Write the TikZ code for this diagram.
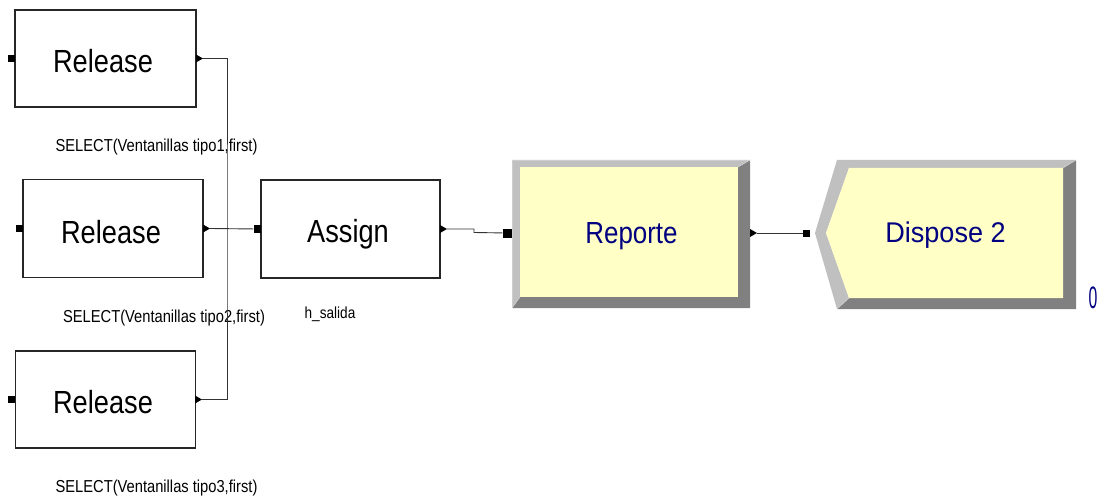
\documentclass[tikz,border=0pt]{standalone}
\usepackage{fontspec}
\setmainfont{Liberation Sans}
\newfontfamily\condfont[FakeStretch=0.85]{Liberation Sans}
\newfontfamily\plainfont[FakeStretch=0.95]{Liberation Sans}
\usetikzlibrary{calc}
\definecolor{bevlight}{HTML}{C0C0C0}
\definecolor{bevdark}{HTML}{808080}
\definecolor{modfill}{HTML}{FFFFC6}
\definecolor{modtext}{HTML}{000080}
\tikzset{
  blockbox/.style={draw=black!85, line width=1.1pt, fill=white, inner sep=0pt},
  blocktext/.style={inner sep=0pt, anchor=base, font=\condfont\fontsize{32}{36}\selectfont},
  modlabel/.style={inner sep=0pt, font=\condfont\fontsize{17.3}{20}\selectfont},
  inport/.style={fill=black, draw=none, minimum width=7pt, minimum height=7pt, inner sep=0pt},
  bigport/.style={fill=black, draw=none, minimum width=9pt, minimum height=9pt, inner sep=0pt},
  conn/.style={draw=black!80, line width=0.9pt},
}
\newcommand{\outtri}[1]{\fill ($(#1)+(0,-4)$) -- ++(7,4) -- ++(-7,4) -- cycle;}
\begin{document}
\begin{tikzpicture}[x=1pt,y=-1pt]
\useasboundingbox (0,0) rectangle (1101,500);

% Release / Assign blocks
\node[blockbox, minimum width=181pt, minimum height=97pt] (r1) at (105.5,58.5) {};
\node[blockbox, minimum width=180pt, minimum height=98pt] (r2) at (113,228.5) {};
\node[blockbox, minimum width=180pt, minimum height=97pt] (r3) at (105.5,399.5) {};
\node[blockbox, minimum width=179pt, minimum height=98pt] (as) at (350.5,229) {};
\node[blocktext] (r1t) at (103,73) {Release};
\node[blocktext] (r2t) at (111,243) {Release};
\node[blocktext] (r3t) at (103,413) {Release};
\node[blocktext] (ast) at (348,242.7) {Assign};

\node[modlabel] (l1) at (156.5,147) {SELECT(Ventanillas tipo1,first)};
\node[modlabel] (l2) at (164,318.5) {SELECT(Ventanillas tipo2,first)};
\node[modlabel] (l3) at (156.5,488) {SELECT(Ventanillas tipo3,first)};
\node[modlabel, font=\condfont\fontsize{16}{19}\selectfont] (hs) at (330,314) {h\_salida};

% input ports
\node[inport] (r1in) at (11.5,58.5) {};
\node[inport] (r2in) at (19.5,228.5) {};
\node[inport] (r3in) at (11.5,399.5) {};
\node[inport, minimum height=8pt] (asin) at (257,229) {};

% output port coordinates
\coordinate (r1out) at (203,58.5);
\coordinate (r2out) at (210,228.5);
\coordinate (r3out) at (202,399.5);
\coordinate (asout) at (447,229);
\coordinate (j) at (227,228.5);
\coordinate (bend1) at (474,229);
\coordinate (bend2) at (474,232.5);

% connectors
\draw[conn] (r1out) -| (j) |- (r3out);
\draw[conn] (r2out) -- (asin);

% Reporte module
\fill[bevlight] (512,160) -- (750,160) -- (738,167) -- (520,167) -- (520,297) -- (512,308) -- cycle;
\fill[bevdark] (750,160) -- (750,308) -- (512,308) -- (520,297) -- (738,297) -- (738,167) -- cycle;
\draw[bevlight!80!white, line width=0.8pt] (512,308) -- (512,160) -- (750,160);
\fill[modfill] (520,167) rectangle (738,297);
\draw[white!70!bevdark, line width=0.5pt] (738,167) -- (750,160) (520,297) -- (512,308);
\node[inner sep=0pt, anchor=base, text=modtext, font=\condfont\fontsize{30.5}{35}\selectfont] (rep) at (631.5,243.5) {Reporte};
\node[bigport] (repin) at (507,233) {};
\coordinate (repout) at (757,233);

\draw[conn] (asout) -- (bend1) -- (bend2) -- (repin);

% Dispose module
\fill[bevlight] (815,233) -- (837,160) -- (1076,160) -- (1063,168) -- (849,168) -- (826,233) -- (849,298) -- (837,309) -- cycle;
\fill[bevdark] (1076,160) -- (1076,309) -- (837,309) -- (849,298) -- (1063,298) -- (1063,168) -- cycle;
\fill[modfill] (826,233) -- (849,168) -- (1063,168) -- (1063,298) -- (849,298) -- cycle;
\draw[white!70!bevdark, line width=0.5pt] (1063,168) -- (1076,160) (849,298) -- (837,309);
\node[inner sep=0pt, anchor=base, text=modtext, font=\plainfont\fontsize{28.5}{32}\selectfont] (disp) at (945.5,242.5) {Dispose 2};
\node[inport] (dispin) at (806.5,233) {};
\node[inner sep=0pt, text=modtext, font=\condfont\fontsize{31}{35}\selectfont] (cnt) at (1093,298) {\scalebox{0.6}[1]{0}};

\draw[conn] (repout) -- (dispin);

% output triangles
\outtri{196,58.5}
\outtri{203,228.5}
\outtri{195,399.5}
\outtri{440,229}
\outtri{750,233}
\end{tikzpicture}
\end{document}
